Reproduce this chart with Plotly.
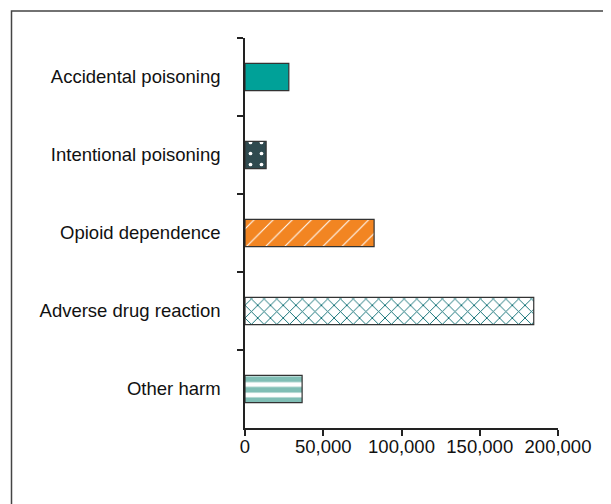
import plotly.graph_objects as go

# Categorie dall'alto verso il basso, come nel grafico originale
categories = [
    "Accidental poisoning",
    "Intentional poisoning",
    "Opioid dependence",
    "Adverse drug reaction",
    "Other harm",
]
values = [28000, 13500, 82500, 184500, 36500]

x_ticks = [0, 50000, 100000, 150000, 200000]
x_tick_labels = ["0", "50,000", "100,000", "150,000", "200,000"]

# Stile di riempimento per ciascuna barra (colore di fondo, motivo, colore motivo)
bg_colors = ["#00A198", "#2F4A4F", "#F28522", "#FFFFFF", "#FFFFFF"]
fg_colors = ["#00A198", "#FFFFFF", "#FFFFFF", "#0F6F75", "#80BEB5"]
shapes = ["", ".", "/", "x", "-"]
sizes = [8, 11, 13.5, 9, 10.5]
solidity = [0.2, 0.09, 0.08, 0.2, 0.55]

fig = go.Figure()
# Una traccia per barra: i motivi con array non vengono applicati per punto
for i, cat in enumerate(categories):
    fig.add_trace(go.Bar(
        x=[values[i]], y=[cat], orientation="h",
        marker=dict(
            color=bg_colors[i],
            line=dict(color="#333333", width=1.2),
            pattern=dict(
                shape=shapes[i], fgcolor=fg_colors[i], bgcolor=bg_colors[i],
                size=sizes[i], solidity=solidity[i], fillmode="replace",
            ),
        ),
        showlegend=False,
    ))

# Cornice esterna (tagliata a destra e in basso come nell'immagine)
fig.add_shape(
    type="rect", xref="paper", yref="paper",
    x0=-0.746, x1=1.2, y0=-0.25, y1=1.069,
    line=dict(color="#444444", width=1.5), layer="below",
)

fig.update_xaxes(
    range=[0, 200000], tickvals=x_ticks, ticktext=x_tick_labels,
    showline=True, linecolor="#222222", linewidth=1.5,
    ticks="outside", ticklen=6, tickcolor="#222222", tickwidth=1.5,
    ticklabelstandoff=-5,
    showgrid=False, zeroline=False,
)
fig.update_yaxes(
    autorange="reversed", categoryorder="array", categoryarray=categories,
    showline=True, linecolor="#222222", linewidth=1.5,
    ticks="outside", ticklen=6, tickcolor="#222222", tickwidth=1.5,
    tickson="boundaries", ticklabelstandoff=19,
    showgrid=False,
)

# La pagina ha 8px di margine del body: figura piu' piccola per evitare le barre
# di scorrimento, margini che compensano lo spostamento
fig.update_layout(
    width=603, height=496,
    margin=dict(l=237, r=53, t=30, b=76),
    barmode="overlay", bargap=0.65,
    plot_bgcolor="white", paper_bgcolor="white",
    font=dict(family="Liberation Sans, Arial, sans-serif", size=18.5, color="#111111"),
)

fig.write_html("out.html")
